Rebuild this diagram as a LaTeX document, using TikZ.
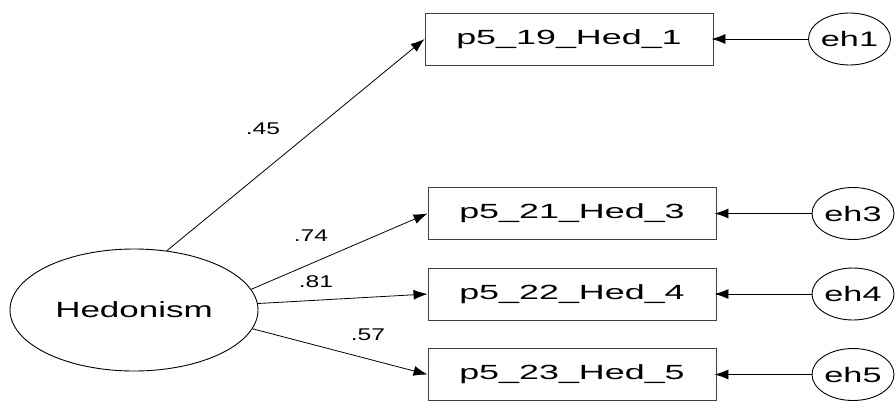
\documentclass[tikz,border=0pt]{standalone}
\usepackage{fontspec}
\setmainfont{Liberation Sans}
\usepackage{graphicx}
\usetikzlibrary{shapes.geometric, arrows.meta}

\newcommand{\widetext}[2]{\scalebox{#1}[1]{#2}}

\tikzstyle{latent} = [ellipse, draw=black, line width=0.9pt, minimum width=248pt, minimum height=122pt, inner sep=0pt, font=\fontsize{22}{22}\selectfont]
\tikzstyle{observed} = [rectangle, draw=black!75, line width=0.9pt, minimum width=288pt, minimum height=52pt, inner sep=0pt, font=\fontsize{20.5}{20.5}\selectfont]
\tikzstyle{error} = [ellipse, draw=black, line width=0.9pt, minimum width=82pt, minimum height=52pt, inner sep=0pt, font=\fontsize{21}{21}\selectfont]
\tikzstyle{coef} = [inner sep=0pt, font=\fontsize{17}{17}\selectfont]
\tikzstyle{arrow} = [-{Latex[length=14pt, width=10pt]}, line width=0.8pt]

\begin{document}
\begin{tikzpicture}[x=1pt, y=-1pt]
	\useasboundingbox (0,0) rectangle (896,410);
	\node (hed) [latent] at (134,310) {\widetext{1.59}{Hedonism}};
	\node (item1) [observed] at (569,39) {\widetext{1.75}{p5\_19\_Hed\_1}};
	\node (item3) [observed] at (572,213.5) {\widetext{1.75}{p5\_21\_Hed\_3}};
	\node (item4) [observed, below of=item3, node distance=80.5pt] {\widetext{1.75}{p5\_22\_Hed\_4}};
	\node (item5) [observed, below of=item4, node distance=80.5pt] {\widetext{1.75}{p5\_23\_Hed\_5}};
	\node (eh1) [error] at (849.5,39) {\widetext{1.63}{eh1}};
	\node (eh3) [error] at (853,213.5) {\widetext{1.63}{eh3}};
	\node (eh4) [error] at (853,294) {\widetext{1.63}{eh4}};
	\node (eh5) [error] at (853,374.5) {\widetext{1.63}{eh5}};
	
	\draw [arrow](hed.61) -- (item1.west);
	\draw [arrow](hed.10) -- (item3.west);
	\draw [arrow](hed.3) -- (item4.west);
	\draw [arrow](hed.-9) -- (item5.west);
	
	\draw [arrow, shorten >=-2pt](eh1) -- (item1.east);
	\draw [arrow, shorten >=-2pt](eh3) -- (item3.east);
	\draw [arrow, shorten >=-2pt](eh4) -- (item4.east);
	\draw [arrow, shorten >=-2pt](eh5) -- (item5.east);
	
	\node (c1) [coef] at (263,129) {\widetext{1.45}{.45}};
	\node (c3) [coef] at (311,236) {\widetext{1.45}{.74}};
	\node (c4) [coef] at (316,282) {\widetext{1.45}{.81}};
	\node (c5) [coef] at (368,335) {\widetext{1.45}{.57}};
\end{tikzpicture}
\end{document}
